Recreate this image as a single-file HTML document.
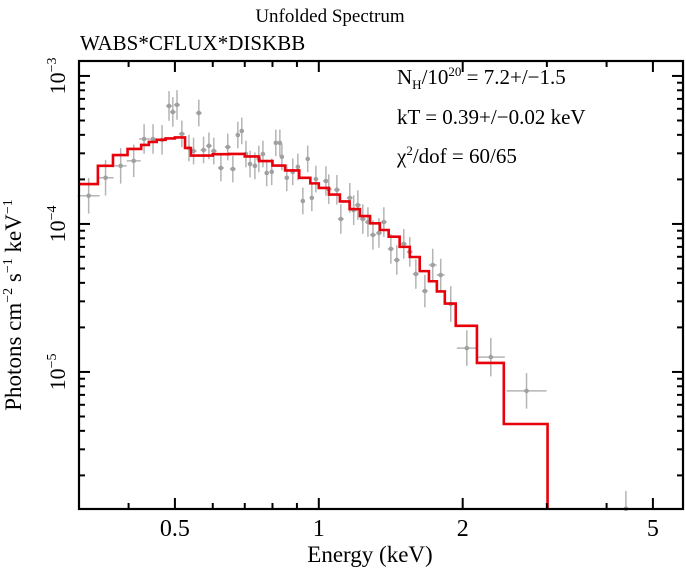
<!DOCTYPE html>
<html><head><meta charset="utf-8"><style>
body{margin:0;background:#fff;}
svg{display:block;font-family:"Liberation Serif",serif;}
</style></head><body>
<svg id="chart" width="686" height="569" viewBox="0 0 686 569" xmlns="http://www.w3.org/2000/svg">
<text x="330" y="22" font-size="19" text-anchor="middle">Unfolded Spectrum</text>
<text x="80" y="50" font-size="21">WABS*CFLUX*DISKBB</text>
<g id="plot"></g>
<text x="397" y="84" font-size="21">N<tspan font-size="13" dy="5">H</tspan><tspan dy="-5">/10</tspan><tspan font-size="13" dy="-8">20</tspan><tspan dy="8"> = 7.2+/−1.5</tspan></text>
<text x="397" y="124" font-size="21">kT = 0.39+/−0.02 keV</text>
<text x="397" y="163" font-size="21">χ<tspan font-size="13" dy="-8">2</tspan><tspan dy="8">/dof = 60/65</tspan></text>
<text x="370" y="562" font-size="23" text-anchor="middle">Energy (keV)</text>
<text transform="translate(21,305) rotate(-90)" font-size="23" text-anchor="middle">Photons cm<tspan font-size="14" dy="-9">−2</tspan><tspan dy="9"> s</tspan><tspan font-size="14" dy="-9">−1</tspan><tspan dy="9"> keV</tspan><tspan font-size="14" dy="-9">−1</tspan></text>
</svg>
<script>
const modelEdges=[0.309,0.345,0.371,0.398,0.425,0.441,0.458,0.478,0.500,0.525,0.540,0.60,0.65,0.70,0.75,0.80,0.85,0.91,0.96,1.00,1.05,1.107,1.16,1.219,1.28,1.342,1.40,1.476,1.55,1.626,1.70,1.766,1.835,1.934,2.142,2.438,3.01];
const modelValues=[1.86e-4,2.47e-4,2.92e-4,3.21e-4,3.42e-4,3.58e-4,3.70e-4,3.78e-4,3.84e-4,3.26e-4,2.90e-4,2.96e-4,2.97e-4,2.86e-4,2.66e-4,2.48e-4,2.30e-4,2.05e-4,1.88e-4,1.75e-4,1.58e-4,1.42e-4,1.26e-4,1.13e-4,1.01e-4,9.1e-5,8.2e-5,7.0e-5,5.98e-5,4.8e-5,4.1e-5,3.5e-5,2.9e-5,2.05e-5,1.15e-5,4.45e-6];
const dataE=[0.330,0.358,0.385,0.410,0.431,0.450,0.470,0.486,0.495,0.505,0.517,0.535,0.547,0.561,0.574,0.589,0.603,0.624,0.645,0.661,0.677,0.690,0.704,0.718,0.735,0.749,0.764,0.778,0.797,0.813,0.829,0.837,0.857,0.882,0.904,0.926,0.948,0.967,0.986,1.035,1.049,1.091,1.112,1.161,1.183,1.207,1.236,1.267,1.298,1.336,1.368,1.415,1.456,1.506,1.550,1.596,1.667,1.731,1.799,1.888,2.04,2.29,2.72,4.39];
const dataF=[1.55e-4,2.05e-4,2.47e-4,2.67e-4,3.75e-4,3.75e-4,3.70e-4,6.27e-4,5.71e-4,6.37e-4,4.06e-4,3.26e-4,3.11e-4,5.62e-4,3.16e-4,3.37e-4,3.11e-4,2.39e-4,3.31e-4,2.35e-4,3.99e-4,4.25e-4,2.97e-4,2.54e-4,2.47e-4,2.75e-4,2.97e-4,2.21e-4,2.25e-4,3.53e-4,3.53e-4,2.84e-4,2.05e-4,2.25e-4,2.43e-4,1.43e-4,2.75e-4,1.50e-4,2.01e-4,1.95e-4,1.72e-4,1.70e-4,1.08e-4,1.50e-4,1.24e-4,1.34e-4,1.08e-4,1.03e-4,8.43e-5,8.69e-5,1.03e-4,6.78e-5,5.71e-5,7.33e-5,6.47e-5,4.59e-5,3.52e-5,5.28e-5,4.52e-5,2.88e-5,1.45e-5,1.26e-5,7.45e-6,1.19e-6];
const dataXErrPx=[11,8,6,7,5,4,4,3,3,3,3,3,3,3,3,3,3,3,3,3,2,2,2,2,2,2,2,2,2,2,2,2,2,2,2,2,2,2,2,3,3,3,3,3,3,3,3,3,3,3,3,3,3,3,3,3,3,4,4,5,10,14,20,3];
const dataYErrDex=[0.12,0.12,0.12,0.11,0.1,0.1,0.1,0.1,0.1,0.1,0.09,0.09,0.09,0.09,0.09,0.09,0.09,0.09,0.09,0.09,0.09,0.09,0.09,0.09,0.09,0.09,0.09,0.09,0.09,0.09,0.09,0.09,0.09,0.09,0.09,0.09,0.09,0.09,0.09,0.1,0.1,0.1,0.1,0.1,0.1,0.1,0.1,0.1,0.1,0.1,0.1,0.1,0.1,0.1,0.1,0.1,0.11,0.11,0.11,0.12,0.12,0.13,0.12,0.12];
const xTickMajor=[0.5,1,2,5];
const xTickLabels=["0.5","1","2","5"];
const xTickMinor=[0.4,0.6,0.7,0.8,0.9,3,4];
const yTickMajor=[1e-3,1e-4,1e-5];
const yTickExp=["−3","−4","−5"];

const L=79,R=683,T=61,B=509;
const X0=0.315,X1=5.78,Y0=-5.926,Y1=-2.899;
const NS="http://www.w3.org/2000/svg";
function xs(e){return L+(Math.log10(e)-Math.log10(X0))/(Math.log10(X1)-Math.log10(X0))*(R-L);}
function ys(f){return B-(Math.log10(f)-Y0)/(Y1-Y0)*(B-T);}
const g=document.getElementById('plot');
function mk(tag,attrs){const el=document.createElementNS(NS,tag);for(const k in attrs)el.setAttribute(k,attrs[k]);g.appendChild(el);return el;}

for(let i=0;i<dataE.length;i++){
  const cx=xs(dataE[i]),cy=Math.min(ys(dataF[i]),B);
  const grp=document.createElementNS(NS,'g');
  
  
  g.appendChild(grp);
  const d=dataYErrDex[i];
  const hi=ys(dataF[i]*Math.pow(10,d)),lo=Math.min(ys(dataF[i]/Math.pow(10,d)),B);
  const parts=[['line',{x1:cx,x2:cx,y1:hi,y2:lo}],['line',{x1:cx-dataXErrPx[i],x2:cx+dataXErrPx[i],y1:cy,y2:cy}],['circle',{cx:cx,cy:cy,r:2.3}]];
  for(const [t,a] of parts){const el=document.createElementNS(NS,t);for(const k in a)el.setAttribute(k,a[k]);
    if(t==='line'){el.setAttribute('stroke','#b4b4b4');el.setAttribute('stroke-width','1.5');}else el.setAttribute('fill','#a0a0a0');
    grp.appendChild(el);}
}
let pts=[];
for(let i=0;i<modelValues.length;i++){
  const x0=Math.max(xs(modelEdges[i]),L),x1=xs(modelEdges[i+1]),y=ys(modelValues[i]);
  pts.push(x0+','+y,x1+','+y);
}
pts.push(xs(modelEdges[modelEdges.length-1])+','+B);
const model=mk('polyline',{points:pts.join(' '),fill:'none',stroke:'#e8000b','stroke-width':2.6});



const frame=mk('rect',{x:L,y:T,width:R-L,height:B-T,fill:'none',stroke:'#000','stroke-width':2.2});


xTickMajor.forEach((v,i)=>{const x=xs(v);
  mk('line',{x1:x,x2:x,y1:B,y2:B-11,stroke:'#000','stroke-width':2});
  mk('line',{x1:x,x2:x,y1:T,y2:T+11,stroke:'#000','stroke-width':2});
  const t=mk('text',{x:x,y:536,'font-size':24,'text-anchor':'middle'});t.textContent=xTickLabels[i];
  
  
});
xTickMinor.forEach(v=>{const x=xs(v);
  mk('line',{x1:x,x2:x,y1:B,y2:B-6,stroke:'#000','stroke-width':2});
  mk('line',{x1:x,x2:x,y1:T,y2:T+6,stroke:'#000','stroke-width':2});
});
for(let e=-6;e<=-3;e++){for(let m=1;m<=9;m++){const v=m*Math.pow(10,e);const y=ys(v);if(y<T||y>B)continue;
  const len=m===1?11:6;
  mk('line',{x1:L,x2:L+len,y1:y,y2:y,stroke:'#000','stroke-width':2});
  mk('line',{x1:R,x2:R-len,y1:y,y2:y,stroke:'#000','stroke-width':2});
}}
yTickMajor.forEach((v,i)=>{const y=ys(v);
  const t=mk('text',{transform:`translate(65,${y}) rotate(-90)`,'font-size':22,'text-anchor':'middle'});
  t.innerHTML='10<tspan font-size="14" dy="-9">'+yTickExp[i]+'</tspan>';
  
  
});
</script>
</body></html>
